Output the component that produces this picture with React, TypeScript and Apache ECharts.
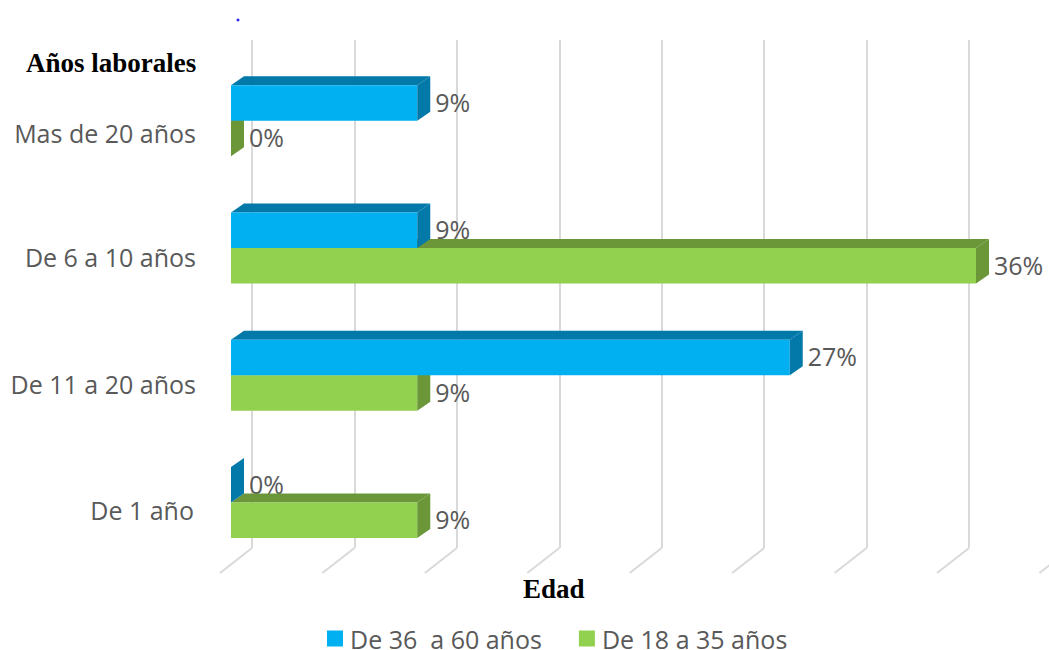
import React, { useEffect, useRef } from "react";
import * as echarts from "echarts";

// Work-years bands, listed from the bottom row of the chart upwards.
const categories = ["De 1 año", "De 11 a 20 años", "De 6 a 10 años", "Mas de 20 años"];
const olderSeriesName = "De 36  a 60 años";
const youngerSeriesName = "De 18 a 35 años";
const olderValues = [0, 27, 9, 9];
const youngerValues = [9, 9, 36, 0];
const wallTicks = [0, 5, 10, 15, 20, 25, 30, 35, 40];

const BLUE = { front: "#00B0F0", shade: "#0279A8" };
const GREEN = { front: "#92D050", shade: "#6B9739" };
const GRID_LINE = "#D9D9D9";
const LABEL_COLOR = "#595959";
const FONT = "'Open Sans', sans-serif";
const SERIF = "'Liberation Serif', serif";
const DEPTH_X = 13;
const DEPTH_Y = 9;

// Draws one pseudo-3D bar: front face, top face and right side face.
function bar3d(colors: { front: string; shade: string }, slot: number) {
  return (_: unknown, api: any) => {
    const value = api.value(0);
    const row = api.value(1);
    const [x1, yc] = api.coord([value, row]);
    const [x0] = api.coord([0, row]);
    const h = api.size([0, 1])[1] * 0.279;
    const top = yc + (slot === 0 ? -h : 0);
    const bottom = top + h;
    const children: any[] = [];
    if (value > 0) {
      children.push({
        type: "polygon",
        shape: { points: [[x0, top], [x0 + DEPTH_X, top - DEPTH_Y], [x1 + DEPTH_X, top - DEPTH_Y], [x1, top]] },
        style: { fill: colors.shade },
      });
      children.push({
        type: "rect",
        shape: { x: x0, y: top, width: x1 - x0, height: h },
        style: { fill: colors.front },
      });
    }
    children.push({
      type: "polygon",
      shape: { points: [[x1, top], [x1 + DEPTH_X, top - DEPTH_Y], [x1 + DEPTH_X, bottom - DEPTH_Y], [x1, bottom]] },
      style: { fill: colors.shade },
    });
    return { type: "group", children };
  };
}

// Value labels sit beneath the bars, so a neighbouring bar's top face can cover them.
function valueLabel(slot: number) {
  return (_: unknown, api: any) => {
    const value = api.value(0);
    const [x1, yc] = api.coord([value, api.value(1)]);
    const h = api.size([0, 1])[1] * 0.279;
    return {
      type: "text",
      x: x1 + 18,
      y: yc + (slot === 0 ? -h / 2 : h / 2) - 1,
      style: {
        text: `${value}%`,
        fill: LABEL_COLOR,
        font: `25px ${FONT}`,
        textAlign: "left",
        textVerticalAlign: "middle",
      },
    };
  };
}

// Floor lines running from the foot of each wall line towards the viewer.
function floorLine(_: unknown, api: any) {
  const [x, y] = api.coord([api.value(0), 0]);
  return {
    type: "line",
    shape: { x1: x, y1: y, x2: x - 32, y2: y + 25 },
    style: { stroke: GRID_LINE, lineWidth: 2 },
  };
}

const rows = (values: number[]) => values.map((v, i) => [v, i]);

// Row captions hang below their band centre by half of these line heights.
const captionLineHeights = [14, 18, 18, 24];
const captionStyles: Record<string, object> = {};
captionLineHeights.forEach((lineHeight, i) => {
  captionStyles[`r${i}`] = {
    fontFamily: FONT,
    fontSize: 25,
    color: LABEL_COLOR,
    lineHeight,
    padding: i === 0 ? [0, 2, 0, 0] : 0,
  };
});

export default function App() {
  const ref = useRef<HTMLDivElement>(null);
  useEffect(() => {
    document.body.style.margin = "0";
    const chart = echarts.init(ref.current!, null, { renderer: "svg" });
    chart.setOption({
      animation: false,
      backgroundColor: "#FFFFFF",
      title: [
        { text: "Años laborales", left: 21, top: 44, textStyle: { fontFamily: SERIF, fontWeight: "bold", fontSize: 27, color: "#000000" } },
        { text: "Edad", left: 518, top: 570, textStyle: { fontFamily: SERIF, fontWeight: "bold", fontSize: 27, color: "#000000" } },
      ],
      legend: {
        data: [olderSeriesName, youngerSeriesName],
        left: 327,
        top: 626,
        padding: 0,
        icon: "rect",
        itemWidth: 16,
        itemHeight: 16,
        itemGap: 37,
        textStyle: { fontFamily: FONT, fontSize: 25, lineHeight: 20, color: LABEL_COLOR, padding: [0, 0, 0, 2] },
      },
      grid: [
        { left: 231, top: 57, width: 745, height: 509.2 },
        { left: 252, top: 40, width: 717, height: 508 },
      ],
      xAxis: [
        { type: "value", gridIndex: 0, min: 0, max: 36, show: false },
        {
          type: "value",
          gridIndex: 1,
          min: 0,
          max: 35,
          interval: 5,
          axisLine: { show: false },
          axisTick: { show: false },
          axisLabel: { show: false },
          splitLine: { show: true, lineStyle: { color: GRID_LINE, width: 2 } },
        },
      ],
      yAxis: [
        {
          type: "category",
          gridIndex: 0,
          data: categories,
          axisLine: { show: false },
          axisTick: { show: false },
          axisLabel: {
            margin: 35,
            verticalAlign: "top",
            formatter: (value: string, index: number) => `{r${index}|${value}}`,
            rich: captionStyles,
          },
        },
        { type: "value", gridIndex: 1, min: 0, max: 1, show: false },
      ],
      series: [
        {
          type: "custom",
          name: "floor",
          xAxisIndex: 1,
          yAxisIndex: 1,
          z: 1,
          data: wallTicks.map((t) => [t]),
          encode: { x: 0 },
          renderItem: floorLine,
          silent: true,
        },
        { type: "custom", name: "older labels", z: 2, data: rows(olderValues), encode: { x: 0, y: 1 }, renderItem: valueLabel(0), silent: true },
        { type: "custom", name: "younger labels", z: 2, data: rows(youngerValues), encode: { x: 0, y: 1 }, renderItem: valueLabel(1), silent: true },
        {
          type: "custom",
          name: youngerSeriesName,
          z: 3,
          itemStyle: { color: GREEN.front },
          data: rows(youngerValues),
          encode: { x: 0, y: 1 },
          renderItem: bar3d(GREEN, 1),
        },
        {
          type: "custom",
          name: olderSeriesName,
          z: 4,
          itemStyle: { color: BLUE.front },
          data: rows(olderValues),
          encode: { x: 0, y: 1 },
          renderItem: bar3d(BLUE, 0),
        },
      ],
      graphic: [
        { type: "circle", shape: { cx: 238, cy: 20, r: 1.5 }, style: { fill: "#2A2AF0" } },
      ],
    });
    return () => chart.dispose();
  }, []);
  return <div ref={ref} style={{ width: 1049, height: 650 }} />;
}
